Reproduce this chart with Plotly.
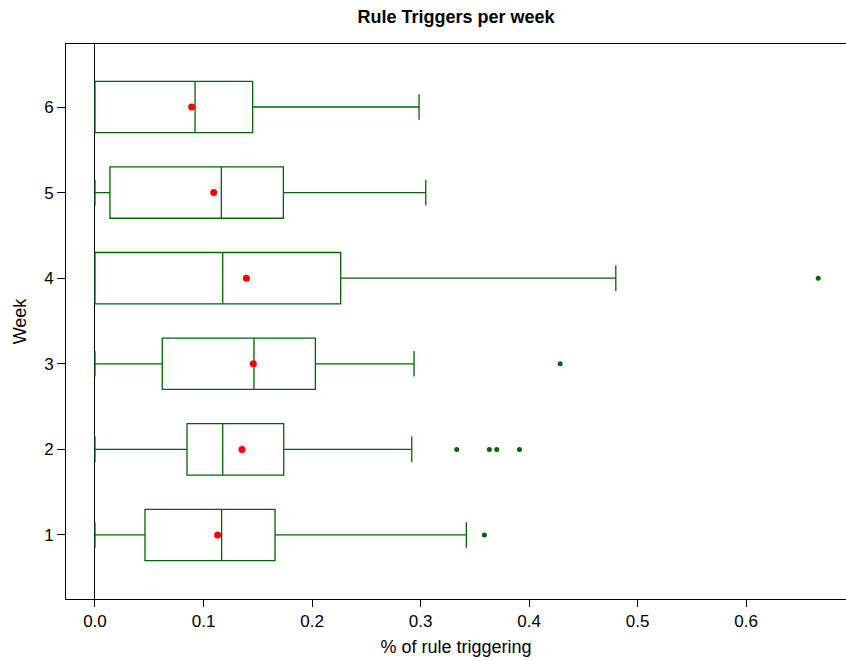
import plotly.graph_objects as go

weeks = [1, 2, 3, 4, 5, 6]
q1 = [0.0461, 0.0848, 0.0620, 0.0, 0.0138, 0.0]
median = [0.1167, 0.1177, 0.1465, 0.1177, 0.1164, 0.0922]
q3 = [0.1659, 0.1739, 0.2031, 0.2264, 0.1736, 0.1453]
lower = [0.0, 0.0, 0.0, 0.0, 0.0, 0.0]
upper = [0.3422, 0.2919, 0.2940, 0.4799, 0.3048, 0.2986]
means = [0.1130, 0.1355, 0.1459, 0.1395, 0.1094, 0.0891]

outlier_week = [1, 2, 2, 2, 2, 3, 4]
outlier_val = [0.3588, 0.3333, 0.3634, 0.3702, 0.3911, 0.4286, 0.6664]

green = "#006400"
font = "Liberation Sans, Arial, Helvetica, sans-serif"

fig = go.Figure()
fig.add_trace(go.Box(
    y=weeks, q1=q1, median=median, q3=q3,
    lowerfence=lower, upperfence=upper,
    orientation="h", width=0.6, whiskerwidth=0.5,
    line=dict(color=green, width=1.3),
    fillcolor="rgba(0,0,0,0)", boxpoints=False, showlegend=False,
    hoverinfo="skip",
))
fig.add_trace(go.Scatter(
    x=outlier_val, y=outlier_week, mode="markers",
    marker=dict(color=green, size=5), showlegend=False,
))
fig.add_trace(go.Scatter(
    x=means, y=weeks, mode="markers",
    marker=dict(color="red", size=7), showlegend=False,
))

fig.update_layout(
    width=846, height=661,
    margin=dict(l=66, r=0, t=44, b=62, autoexpand=False),
    paper_bgcolor="white", plot_bgcolor="white",
    font=dict(family=font, size=17, color="black"),
    title=dict(text="<b>Rule Triggers per week</b>", x=0.539, xanchor="center",
               y=0.974, yanchor="middle", font=dict(size=18)),
    xaxis=dict(
        automargin=False,
        range=[-0.0267, 0.692], tickvals=[0, 0.1, 0.2, 0.3, 0.4, 0.5, 0.6],
        ticktext=["0.0", "0.1", "0.2", "0.3", "0.4", "0.5", "0.6"],
        tickfont=dict(size=17),
        showgrid=False, zeroline=True, zerolinecolor="black", zerolinewidth=1,
        showline=True, linecolor="black", linewidth=1, mirror=True,
        ticks="outside", ticklen=7, tickcolor="black",
        title=dict(text="% of rule triggering", standoff=9, font=dict(size=18)),
    ),
    yaxis=dict(
        automargin=False,
        range=[0.252, 6.736], tickvals=weeks,
        tickfont=dict(size=17),
        showgrid=False, zeroline=False,
        showline=True, linecolor="black", linewidth=1,
        ticks="outside", ticklen=8, tickcolor="black",
        title=dict(text="Week", standoff=12, font=dict(size=18)),
    ),
)

fig.write_html(
    "out.html",
    config={"displayModeBar": False},
    post_script="document.body.style.margin='0';document.body.style.padding='0';",
)
